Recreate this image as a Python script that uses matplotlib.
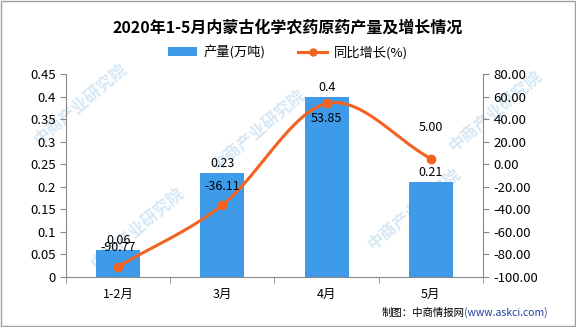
import numpy as np
import matplotlib.pyplot as plt

plt.rcParams['font.family'] = ['Noto Sans CJK SC', 'DejaVu Sans']

months = ['1-2月', '3月', '4月', '5月']
output = [0.06, 0.23, 0.4, 0.21]          # 产量(万吨)
growth = [-90.77, -36.11, 53.85, 5.00]     # 同比增长(%)
output_labels = ['0.06', '0.23', '0.4', '0.21']
growth_labels = ['-90.77', '-36.11', '53.85', '5.00']

bar_color = '#3d9bea'
line_color = '#f4621f'
axis_color = '#888888'


# Catmull-Rom smoothing for the drawn line only
def smooth(x, y, n=30):
    x = np.asarray(x, float)
    y = np.asarray(y, float)
    px = np.concatenate([[2 * x[0] - x[1]], x, [2 * x[-1] - x[-2]]])
    py = np.concatenate([[2 * y[0] - y[1]], y, [2 * y[-1] - y[-2]]])
    xs, ys = [], []
    for i in range(1, len(px) - 2):
        t = np.linspace(0, 1, n)
        for p, out in ((px, xs), (py, ys)):
            p0, p1, p2, p3 = p[i - 1], p[i], p[i + 1], p[i + 2]
            out.extend(0.5 * ((2 * p1) + (-p0 + p2) * t
                              + (2 * p0 - 5 * p1 + 4 * p2 - p3) * t ** 2
                              + (-p0 + 3 * p1 - 3 * p2 + p3) * t ** 3))
    return np.array(xs), np.array(ys)


fig = plt.figure(figsize=(5.76, 3.27), dpi=100)
fig.patches.append(plt.Rectangle((0.002, 0.003), 0.996, 0.994, transform=fig.transFigure,
                                 fill=False, edgecolor='#a0a0a0', linewidth=1))

# watermark (behind everything)
for wx, wy in [(0.14, 0.68), (0.45, 0.6), (0.72, 0.36), (0.24, 0.3), (0.86, 0.66)]:
    fig.text(wx, wy, '中商产业研究院', rotation=40, fontsize=12, color='#d7e8f5',
             ha='center', va='center', zorder=-5, fontweight='bold')

ax = fig.add_axes([0.1146, 0.1529, 0.7239, 0.6208])
ax.patch.set_alpha(0)
ax2 = ax.twinx()

x = np.arange(len(months))
ax.bar(x, output, width=0.42, color=bar_color, label='产量(万吨)', zorder=2)
ax.set_xlim(-0.5, len(months) - 0.5)
ax.set_ylim(0, 0.45)
ax.set_yticks(np.arange(0, 0.46, 0.05))
ax.set_yticklabels(['0', '0.05', '0.1', '0.15', '0.2', '0.25', '0.3', '0.35', '0.4', '0.45'])
ax.set_xticks(x)
ax.set_xticklabels(months)
ax.set_xticks(np.arange(-0.5, len(months), 1), minor=True)
ax.tick_params(axis='x', which='major', length=0, pad=8, labelsize=9)
ax.tick_params(axis='x', which='minor', length=4, color=axis_color)
ax.tick_params(axis='y', length=4, color=axis_color, labelsize=9.5)

for xi, v, s in zip(x, output, output_labels):
    ax.text(xi, v + 0.021, s, ha='center', va='center', fontsize=9, zorder=5)

sx, sy = smooth(x, growth)
ax2.plot(sx, sy, color=line_color, linewidth=2.2, zorder=3)
ax2.plot(x, growth, 'o', color=line_color, markersize=6, zorder=4)
ax2.plot([], [], color=line_color, linewidth=2.2, marker='o', markersize=5, label='同比增长(%)')
ax2.set_ylim(-100, 80)
ax2.set_yticks(np.arange(-100, 81, 20))
ax2.set_yticklabels(['%.2f' % v for v in np.arange(-100, 81, 20)])
ax2.tick_params(axis='y', length=4, color=axis_color, labelsize=9.5)

label_shift = [17, 16, -13, 28]
for xi, v, s, d in zip(x, growth, growth_labels, label_shift):
    ax2.text(xi, v + d, s, ha='center', va='center', fontsize=9, zorder=5)

for a in (ax, ax2):
    for side in ('top', 'right', 'left', 'bottom'):
        a.spines[side].set_visible(False)
ax.spines['left'].set_visible(True)
ax.spines['bottom'].set_visible(True)
ax2.spines['right'].set_visible(True)
for sp in (ax.spines['left'], ax.spines['bottom'], ax2.spines['right']):
    sp.set_color(axis_color)

fig.text(0.5, 0.915, '2020年1-5月内蒙古化学农药原药产量及增长情况', ha='center', va='center',
         fontsize=11.5, fontweight='bold')
h1, l1 = ax.get_legend_handles_labels()
h2, l2 = ax2.get_legend_handles_labels()
fig.legend(h1 + h2, l1 + l2, loc='center', bbox_to_anchor=(0.5, 0.84), ncol=2, frameon=False,
           fontsize=9.5, handlelength=2.2, columnspacing=2.5, handletextpad=0.5)

src = fig.text(0.662, 0.043, '制图：中商情报网', ha='left', va='center', fontsize=7.5, color='black')
fig.add_artist(plt.Annotation('(www.askci.com)', xy=(1, 0.5), xycoords=src, va='center',
                              ha='left', fontsize=7.5, color='#1f3f9f'))

fig.savefig('out.png', dpi=100)
